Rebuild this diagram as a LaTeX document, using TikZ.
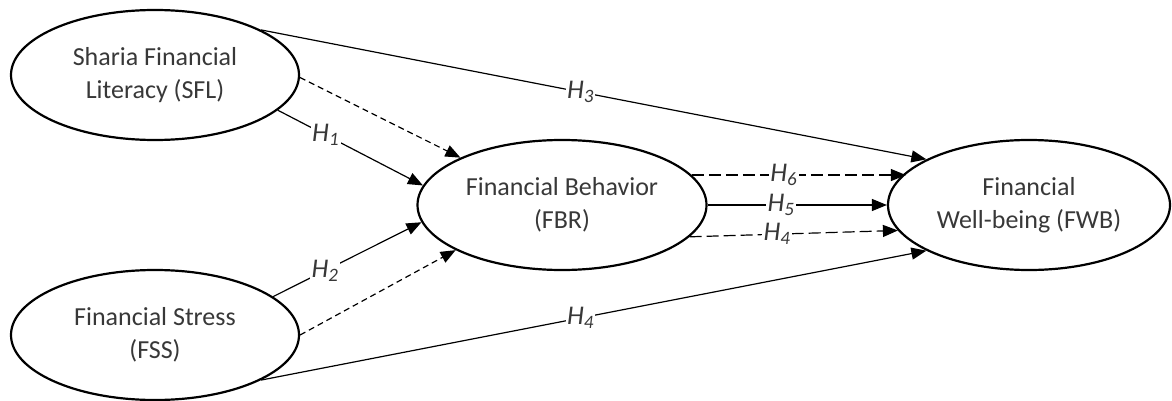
\documentclass[tikz,border=0pt]{standalone}
\usepackage{fontspec}
\setmainfont{Carlito}
\usetikzlibrary{arrows.meta,shapes.geometric}
\begin{document}
\begin{tikzpicture}[x=1pt,y=-1pt,
  latent/.style={ellipse, draw, line width=2.2pt, minimum height=130pt,
    inner sep=0pt, align=center, font=\fontsize{26}{33}\selectfont, text=black!78},
  conn/.style={line width=1.2pt, -{Triangle[length=15pt,width=12pt]}},
  shortdash/.style={dash pattern=on 6pt off 4pt},
  longdash/.style={dash pattern=on 12pt off 5pt},
  hyp/.style={fill=white, inner sep=1.5pt, font=\fontsize{27}{30}\selectfont\itshape, text=black!78}
]
\useasboundingbox (0,0) rectangle (1172,401);
\node[latent, minimum width=288pt] (sfl) at (155,75) {Sharia Financial\\Literacy (SFL)};
\node[latent, minimum width=288pt] (fss) at (155,335) {Financial Stress\\(FSS)};
\node[latent, minimum width=289pt] (fbr) at (562,205) {Financial Behavior\\(FBR)};
\node[latent, minimum width=282pt] (fwb) at (1029,205) {Financial\\Well-being (FWB)};

% SFL -> FWB (H3)
\draw[conn] (sfl.23.2) -- node[hyp, pos=0.48] {H\textsubscript{3}} (fwb.156);
% SFL -> FBR dashed
\draw[conn, shortdash] (sfl.-1) -- (fbr.155.3);
% SFL -> FBR (H1)
\draw[conn] (sfl.-16.9) -- node[hyp, pos=0.33] {H\textsubscript{1}} (fbr.172.6);
% FSS -> FBR (H2)
\draw[conn] (fss.18.9) -- node[hyp, pos=0.35] {H\textsubscript{2}} (fbr.187);
% FSS -> FBR dashed
\draw[conn, shortdash] (fss.0) -- (fbr.203.4);
% FSS -> FWB (H4)
\draw[conn] (fss.-23.2) -- node[hyp, pos=0.48] {H\textsubscript{4}} (fwb.204.4);
% FBR -> FWB dashed (H6)
\draw[conn, longdash] (fbr.13.72) -- node[hyp, pos=0.43] {H\textsubscript{6}} (fbr.13.72 -| fwb.165.97);
% FBR -> FWB (H5)
\draw[conn] (fbr.east) -- node[hyp, pos=0.41] {H\textsubscript{5}} (fwb.west);
% FBR -> FWB dashed (H4)
\draw[conn, longdash] (fbr.-14) -- node[hyp, pos=0.42] {H\textsubscript{4}} (fwb.191);
\end{tikzpicture}
\end{document}
